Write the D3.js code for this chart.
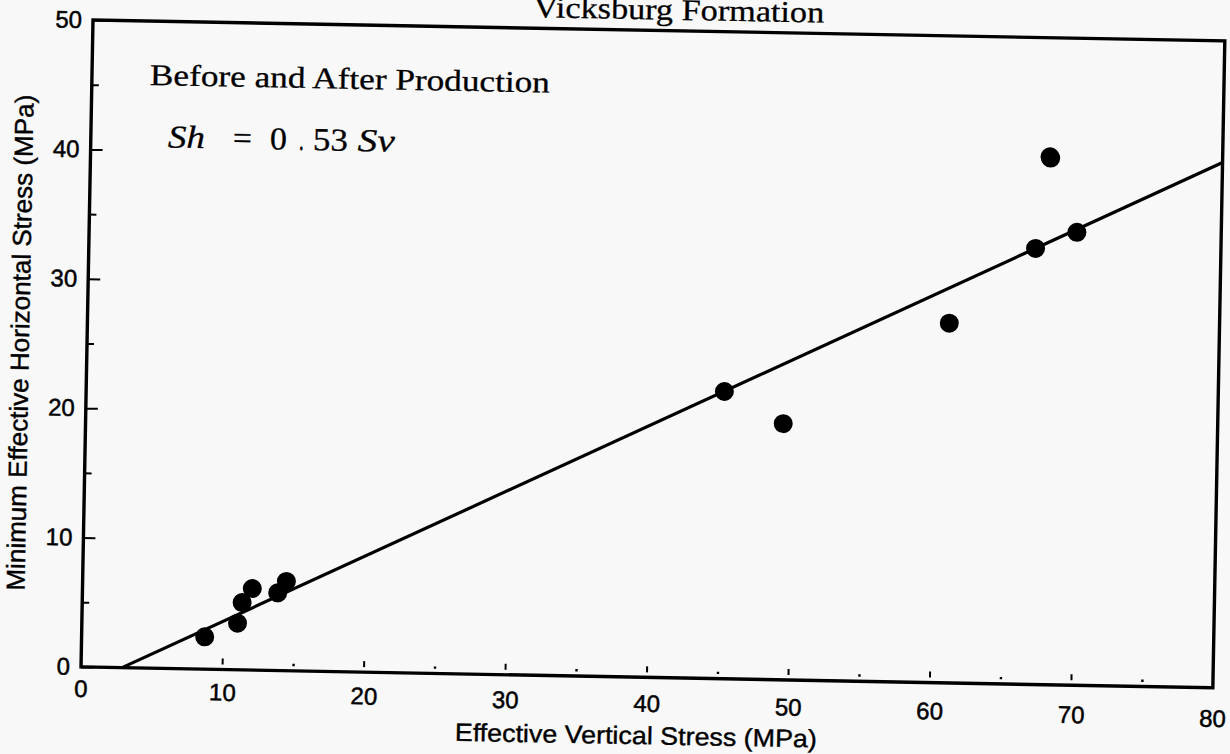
<!DOCTYPE html>
<html>
<head>
<meta charset="utf-8">
<script src="https://cdn.jsdelivr.net/npm/d3@7"></script>
<style>
  html, body { margin: 0; padding: 0; background: #f8f8f8; }
  svg { display: block; }
</style>
</head>
<body>
<svg id="chart" width="1230" height="754"></svg>
<script>
// ---- data ----
const sv = [8.7, 11.0, 11.3, 12.0, 13.8, 14.4, 45.1, 49.3, 60.9, 66.9, 69.8, 67.8, 67.85];
const sh = [2.5, 3.6, 5.2, 6.3, 6.0, 6.9, 22.2, 19.8, 27.8, 33.7, 35.0, 40.8, 40.7];
const fitSv = [2.9, 80];
const fitSh = [0, 40.6];
const xMajorTicks = [0, 10, 20, 30, 40, 50, 60, 70, 80];
const xMinorTicks = [15, 25, 35, 45, 55, 65, 75];
const yMajorTicks = [0, 10, 20, 30, 40, 50];
const yMinorTicks = [5, 15, 25, 35, 45];
const titleText = "Vicksburg Formation";
const xTitle = "Effective Vertical Stress (MPa)";
const yTitle = "Minimum Effective Horizontal Stress (MPa)";
const noteText = "Before and After Production";

// ---- layout ----
const W = 1132, H = 647;
const svg = d3.select("#chart");
svg.append("rect").attr("width", 1230).attr("height", 754).attr("fill", "#f8f8f8");
const g = svg.append("g").attr("transform", "translate(93,20) rotate(1.06)");

const x = d3.scaleLinear().domain([0, 80]).range([0, W]);
const y = d3.scaleLinear().domain([0, 50]).range([H, 0]);

const sans = "'Liberation Sans', Arial, sans-serif";
const serif = "'Liberation Serif', 'Times New Roman', serif";

// X axis labels
const xAxis = g.append("g").attr("transform", `translate(0,${H}) rotate(0.45)`)
  .call(d3.axisBottom(x).tickValues(xMajorTicks).tickSize(0).tickPadding(13).tickFormat(d3.format("d")));
xAxis.select(".domain").remove();
xAxis.selectAll("text").attr("font-family", sans).attr("font-size", 24).attr("fill", "#000")
  .attr("stroke", "#000").attr("stroke-width", 0.5);

// x ticks: short marks above axis with a gap, minor dots
g.append("g").selectAll("line").data(xMajorTicks.filter(d => d > 0 && d < 80)).join("line")
  .attr("x1", d => x(d)).attr("x2", d => x(d))
  .attr("y1", H - 5).attr("y2", H - 11)
  .attr("stroke", "#000").attr("stroke-width", 2);
g.append("g").selectAll("rect").data(xMinorTicks).join("rect")
  .attr("x", d => x(d) - 1).attr("y", H - 7).attr("width", 2.4).attr("height", 2.4)
  .attr("fill", "#000");

// Y axis
const yAxis = g.append("g")
  .call(d3.axisLeft(y).tickValues(yMajorTicks).tickSizeInner(-12).tickSizeOuter(0).tickPadding(-2).tickFormat(d3.format("d")));
yAxis.select(".domain").remove();
yAxis.selectAll("line").attr("stroke-width", 2);
yAxis.selectAll("text").attr("font-family", sans).attr("font-size", 24).attr("fill", "#000")
  .attr("stroke", "#000").attr("stroke-width", 0.5)
  .attr("x", -11);
const yMinor = g.append("g")
  .call(d3.axisLeft(y).tickValues(yMinorTicks).tickSizeInner(-7).tickSizeOuter(0).tickFormat(""));
yMinor.select(".domain").remove();
yMinor.selectAll("line").attr("stroke-width", 2);

// frame
g.append("rect").attr("x", x(0)).attr("y", y(50)).attr("width", x(80) - x(0)).attr("height", y(0) - y(50))
  .attr("fill", "none").attr("stroke", "#000").attr("stroke-width", 3.4);

// fit line
const line = d3.line().x(d => x(d[0])).y(d => y(d[1]));
g.append("path").datum(fitSv.map((v, i) => [v, fitSh[i]]))
  .attr("d", line).attr("fill", "none").attr("stroke", "#000").attr("stroke-width", 3.2);

// points
g.append("g").selectAll("circle").data(sv.map((v, i) => [v, sh[i]])).join("circle")
  .attr("cx", d => x(d[0])).attr("cy", d => y(d[1])).attr("r", 9.5).attr("fill", "#000");

// titles
g.append("text").attr("x", 440).attr("y", -11)
  .attr("font-family", serif).attr("font-size", 30).attr("textLength", 291).attr("lengthAdjust", "spacingAndGlyphs")
  .attr("stroke", "#000").attr("stroke-width", 0.3)
  .text(titleText);
g.append("text").attr("x", W / 2 - 10).attr("y", H + 67).attr("text-anchor", "middle")
  .attr("font-family", sans).attr("font-size", 25).attr("textLength", 362).attr("lengthAdjust", "spacingAndGlyphs")
  .attr("stroke", "#000").attr("stroke-width", 0.4)
  .text(xTitle);
g.append("text").attr("transform", `translate(-58,324) rotate(-90)`).attr("text-anchor", "middle")
  .attr("font-family", sans).attr("font-size", 26).attr("textLength", 496).attr("lengthAdjust", "spacingAndGlyphs")
  .attr("stroke", "#000").attr("stroke-width", 0.4)
  .text(yTitle);

// annotations
g.append("text").attr("x", 58).attr("y", 64)
  .attr("font-family", serif).attr("font-size", 30).attr("textLength", 400).attr("lengthAdjust", "spacingAndGlyphs")
  .attr("stroke", "#000").attr("stroke-width", 0.3)
  .text(noteText);
const eq = g.append("text").attr("y", 126).attr("font-family", serif).attr("font-size", 32)
  .attr("stroke", "#000").attr("stroke-width", 0.3);
const eqParts = [
  { t: "Sh", x: 77, w: 37, it: true },
  { t: "=", x: 142, w: 19, it: false },
  { t: "0", x: 179, w: 17, it: false },
  { t: ".", x: 208, w: 5, it: false },
  { t: "53", x: 222, w: 35, it: false },
  { t: "Sv", x: 267, w: 37, it: true }
];
eqParts.forEach(p => {
  eq.append("tspan").attr("x", p.x).attr("textLength", p.w).attr("lengthAdjust", "spacingAndGlyphs")
    .attr("font-style", p.it ? "italic" : "normal").text(p.t);
});
</script>
</body>
</html>
